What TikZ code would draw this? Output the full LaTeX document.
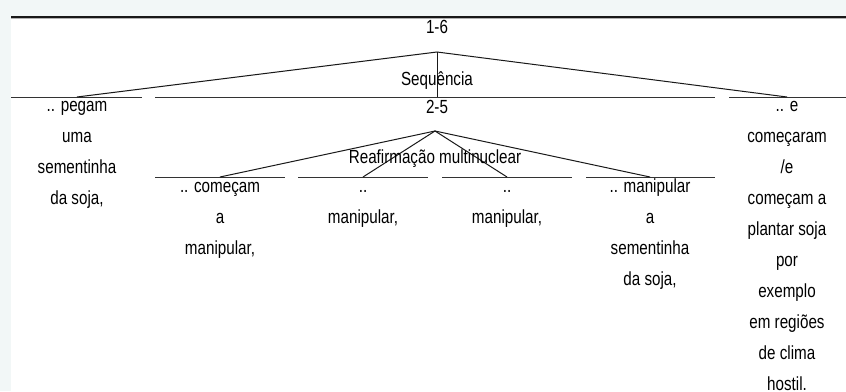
\documentclass[tikz,border=0pt]{standalone}
\usepackage{fontspec}
\setmainfont[FakeStretch=0.8]{Liberation Sans}
\definecolor{bgc}{HTML}{F2F7F7}
\newcommand\colnodes[4]{\foreach \t [count=\i] in {#4} {\node[txt] (#1-\i) at (#2,{#3+31*(\i-1)}) {\t};}}
\begin{document}
\begin{tikzpicture}[x=1pt,y=-1pt,
  txt/.style={anchor=base, inner sep=0pt, font=\fontsize{19}{21}\selectfont},
  ln/.style={line width=1pt, draw=black!90},
  seg/.style={line width=1pt, draw=black!80}]
\fill[bgc] (0,0) rectangle (846,391);
\fill[white] (11,17) rectangle (846,391);
\useasboundingbox (0,0) rectangle (846,391);
\draw[line width=1.2pt, gray!60] (11,18.2) -- (846,18.2);
\draw[line width=1.3pt, black!90] (11,17) -- (846,17);
% top level
\node[txt] (t16) at (437,33) {1-6};
\coordinate (a1) at (437,52);
\coordinate (s1l) at (11,97); \coordinate (s1r) at (142,97); \coordinate (s1c) at (77,97);
\coordinate (s2l) at (155,97); \coordinate (s2r) at (715,97); \coordinate (s2c) at (437,97);
\coordinate (s3l) at (729,97); \coordinate (s3r) at (846,97); \coordinate (s3c) at (787,97);
\draw[seg] (s1l) -- (s1r); \draw[seg] (s2l) -- (s2r); \draw[seg] (s3l) -- (s3r);
\draw[ln] (s1c) -- (a1) -- (s3c);
\draw[ln] (a1) -- (s2c);
\node[txt] (seq) at (437,85) {Sequência};
% second level
\node[txt] (t25) at (437,113.5) {2-5};
\coordinate (a2) at (435,131);
\coordinate (m1l) at (155,177); \coordinate (m1r) at (285,177); \coordinate (m1c) at (220,177);
\coordinate (m2l) at (298,177); \coordinate (m2r) at (428,177); \coordinate (m2c) at (363,177);
\coordinate (m3l) at (442,177); \coordinate (m3r) at (572,177); \coordinate (m3c) at (507,177);
\coordinate (m4l) at (586,177); \coordinate (m4r) at (715,177); \coordinate (m4c) at (650,177);
\draw[seg] (m1l) -- (m1r); \draw[seg] (m2l) -- (m2r);
\draw[seg] (m3l) -- (m3r); \draw[seg] (m4l) -- (m4r);
\draw[ln] (m1c) -- (a2) -- (m4c);
\draw[ln] (m2c) -- (a2) -- (m3c);
\node[txt] (rm) at (435,163) {Reafirmação multinuclear};
% columns
\colnodes{c0}{77}{111.7}{{.. pegam},uma,sementinha,{da soja,}}
\colnodes{c5}{787}{111.7}{{.. e},começaram,/e,{começam a},{plantar soja},por,exemplo,{em regiões},{de clima},{hostil.}}
\colnodes{c1}{220}{192}{{.. começam},a,{manipular,}}
\colnodes{c2}{363}{192}{..,{manipular,}}
\colnodes{c3}{507}{192}{..,{manipular,}}
\colnodes{c4}{650}{192}{{.. manipular},a,sementinha,{da soja,}}
\end{tikzpicture}
\end{document}
